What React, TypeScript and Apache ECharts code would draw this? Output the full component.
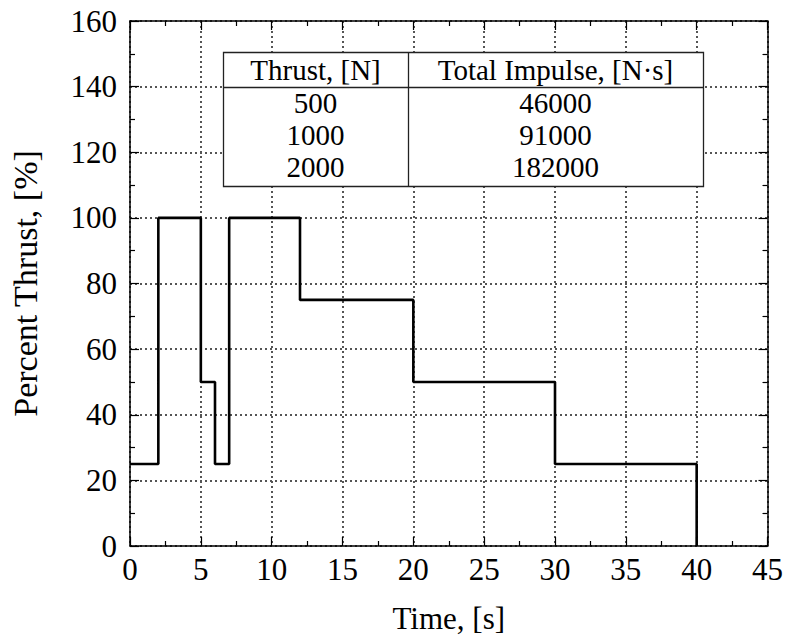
import React, { useEffect, useRef } from "react";
import * as echarts from "echarts";

const times = [0, 2, 5, 6, 7, 12, 20, 30, 40];
const percentThrust = [25, 100, 50, 25, 100, 75, 50, 25, 0];

const tableHeader = ["Thrust, [N]", "Total Impulse, [N·s]"];
const thrustN = ["500", "1000", "2000"];
const totalImpulse = ["46000", "91000", "182000"];

const FONT = "Liberation Serif";

export default function App() {
  const ref = useRef<HTMLDivElement>(null);
  useEffect(() => {
    if (!ref.current) return;
    const chart = echarts.init(ref.current, undefined, { renderer: "svg" });

    const axisLine = { show: true, onZero: false, lineStyle: { color: "#000", width: 1.5 } };
    const axisTick = { show: true, inside: true, length: 9, lineStyle: { color: "#000", width: 1.2 } };
    const minorTick = { show: true, splitNumber: 2, length: 5, lineStyle: { color: "#000", width: 1.2 } };
    const labelStyle = { fontFamily: FONT, fontSize: 31, color: "#000" };

    const col1 = 315.5;
    const col2 = 555.5;
    const rowYs = [103, 135, 167];
    const cell = (text: string, x: number, y: number) => ({
      text,
      left: x,
      top: y,
      padding: 0,
      textAlign: "center",
      textVerticalAlign: "middle",
      z: 30,
      textStyle: { fontFamily: FONT, fontSize: 29, fontWeight: "normal", color: "#000" },
    });
    const titles: any[] = [cell(tableHeader[0], col1, 70), cell(tableHeader[1], col2, 70)];
    thrustN.forEach((t, i) => {
      titles.push(cell(t, col1, rowYs[i]));
      titles.push(cell(totalImpulse[i], col2, rowYs[i]));
    });

    chart.setOption({
      animation: false,
      backgroundColor: "#fff",
      title: titles,
      grid: { left: 130, right: 17, top: 21, bottom: 90, containLabel: false },
      xAxis: [
        {
          type: "value",
          position: "bottom",
          min: 0,
          max: 45,
          interval: 5,
          axisLine,
          axisTick,
          minorTick,
          splitLine: { show: true, lineStyle: { color: "#555", width: 2, type: [2, 3] } },
          axisLabel: { ...labelStyle, margin: 8 },
          name: "Time, [s]",
          nameLocation: "middle",
          nameGap: 57,
          nameTextStyle: { fontFamily: FONT, fontSize: 31, color: "#000" },
        },
        {
          type: "value",
          position: "top",
          min: 0,
          max: 45,
          interval: 5,
          axisLine,
          axisTick,
          minorTick,
          splitLine: { show: false },
          axisLabel: { show: false },
        },
      ],
      yAxis: [
        {
          type: "value",
          position: "left",
          min: 0,
          max: 160,
          interval: 20,
          axisLine,
          axisTick,
          minorTick,
          splitLine: { show: true, lineStyle: { color: "#555", width: 2, type: [2, 3] } },
          axisLabel: { ...labelStyle, margin: 13 },
          name: "Percent Thrust, [%]",
          nameLocation: "middle",
          nameGap: 88,
          nameTextStyle: { fontFamily: FONT, fontSize: 34, color: "#000" },
        },
        {
          type: "value",
          position: "right",
          min: 0,
          max: 160,
          interval: 20,
          axisLine,
          axisTick,
          minorTick,
          splitLine: { show: false },
          axisLabel: { show: false },
        },
      ],
      series: [
        {
          type: "line",
          step: "end",
          xAxisIndex: 0,
          yAxisIndex: 0,
          data: times.map((t, i) => [t, percentThrust[i]]),
          showSymbol: false,
          symbol: "none",
          lineStyle: { color: "#000", width: 2.6 },
          z: 5,
        },
      ],
      graphic: [
        { type: "rect", z: 20, shape: { x: 223.5, y: 52.5, width: 480, height: 134 }, style: { fill: "#fff", stroke: "#222", lineWidth: 1.3 } },
        { type: "line", z: 21, shape: { x1: 223.5, y1: 87.5, x2: 703.5, y2: 87.5 }, style: { stroke: "#222", lineWidth: 1.3 } },
        { type: "line", z: 21, shape: { x1: 408.5, y1: 52.5, x2: 408.5, y2: 186.5 }, style: { stroke: "#222", lineWidth: 1.3 } },
      ],
    });
    return () => chart.dispose();
  }, []);
  return <div ref={ref} style={{ position: "fixed", left: 0, top: 0, width: 786, height: 639 }} />;
}
